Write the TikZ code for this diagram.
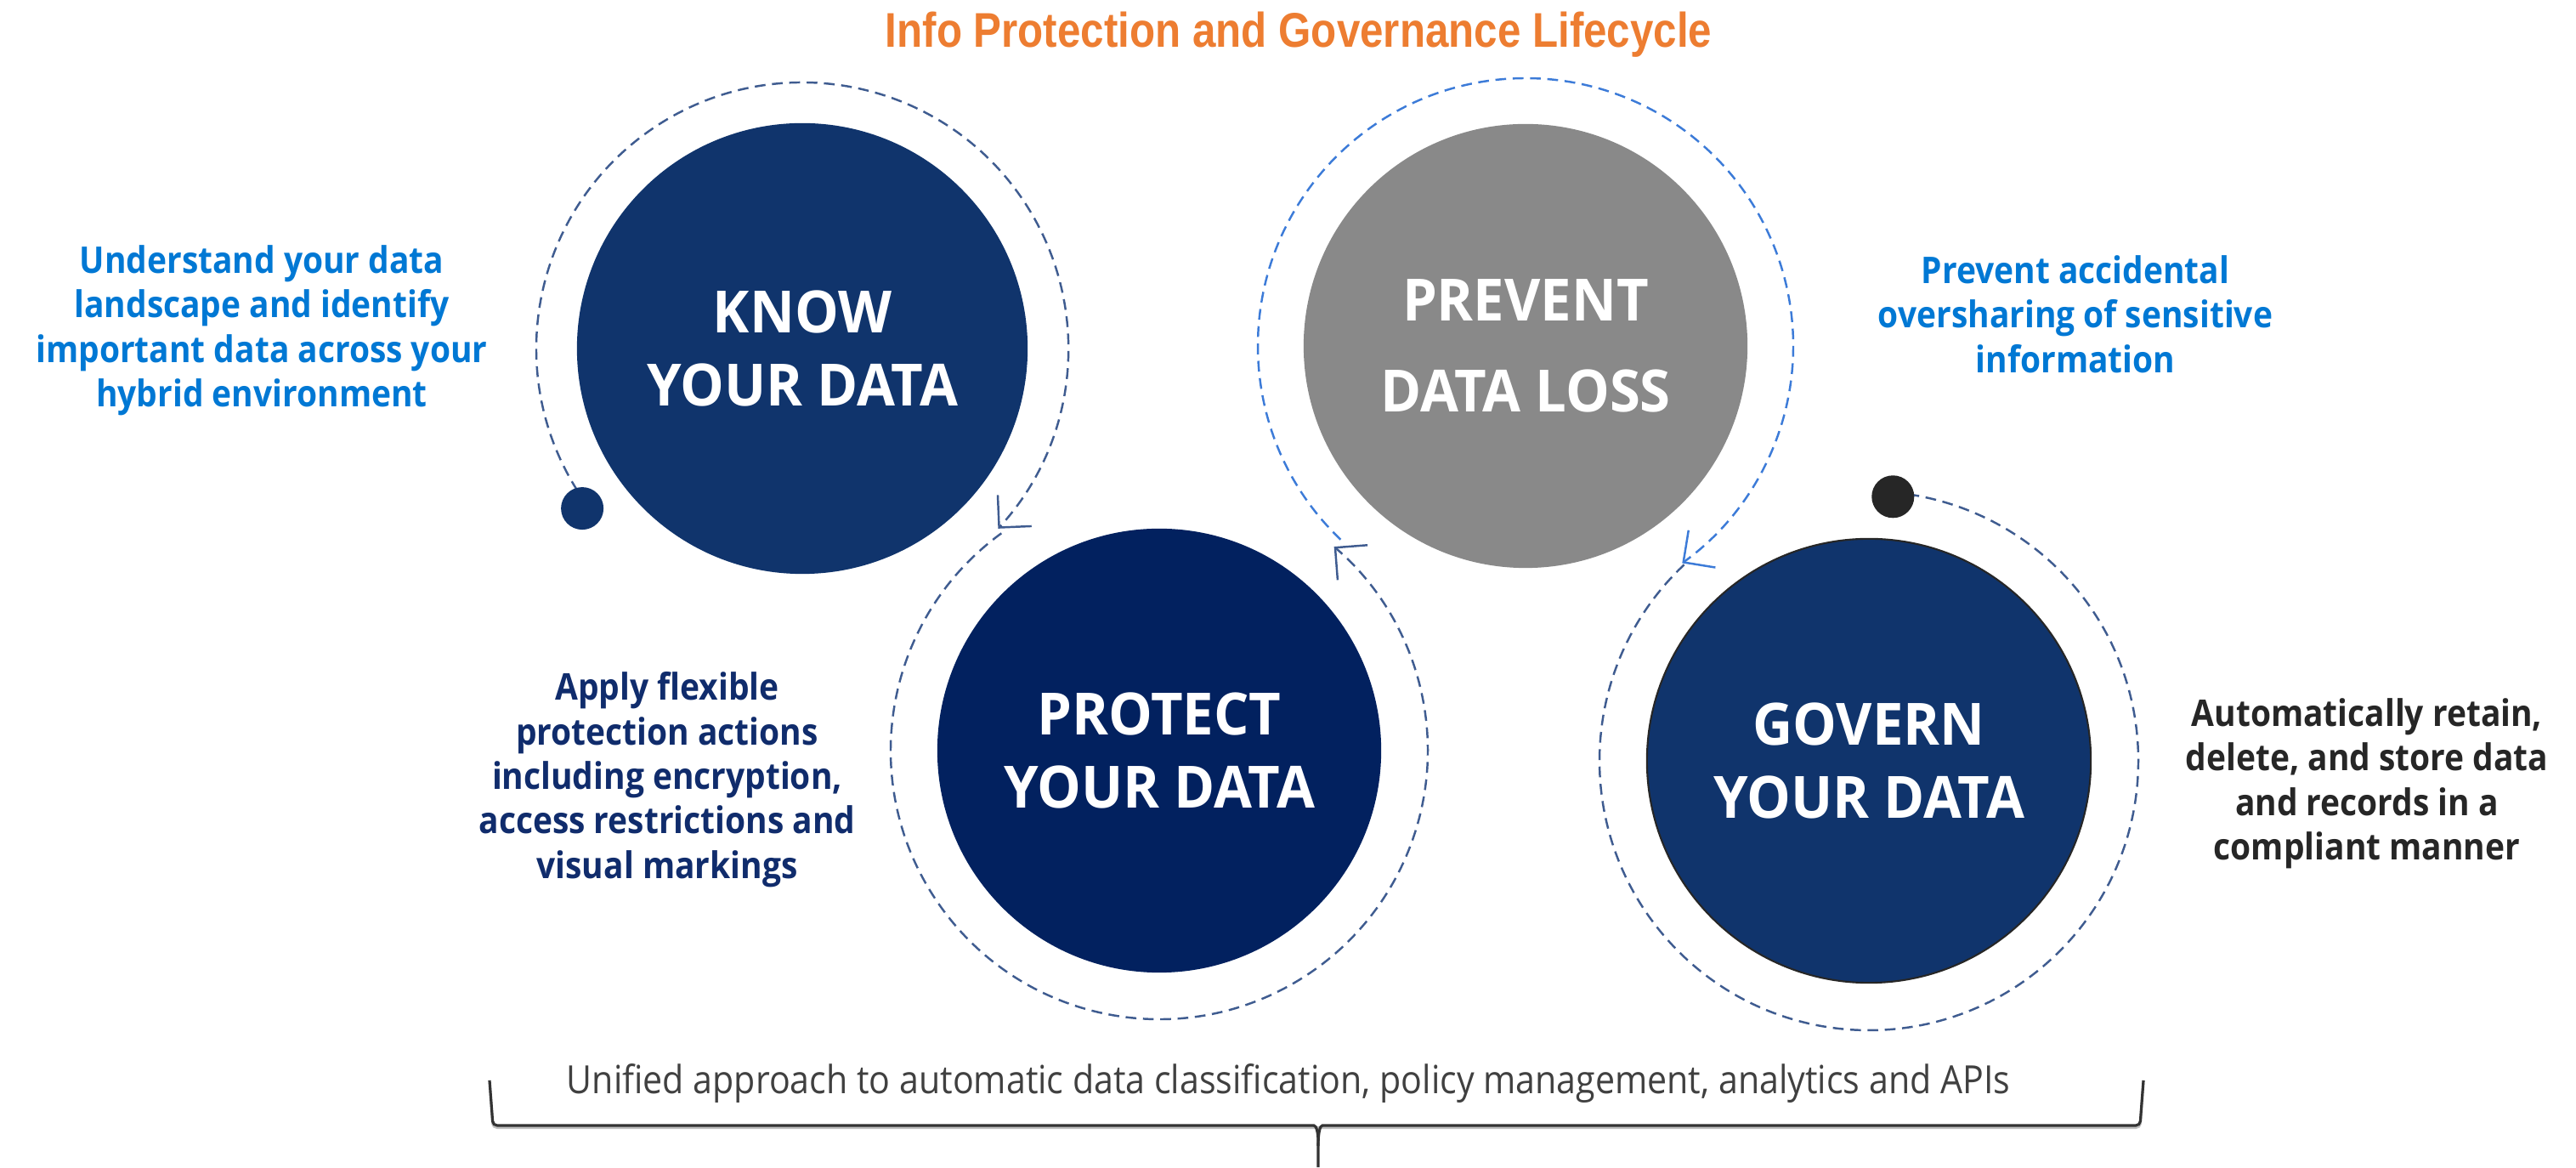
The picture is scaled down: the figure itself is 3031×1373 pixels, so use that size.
\documentclass[tikz,border=0pt]{standalone}
\usepackage{fontspec}
\setmainfont{Open Sans}[FakeStretch=0.9]
\newfontfamily\circfont{Open Sans}[FakeStretch=0.95]
\newfontfamily\titlefont{Liberation Sans}[FakeStretch=0.86]
\usetikzlibrary{arrows.meta}

\definecolor{titleorange}{HTML}{ED7D31}
\definecolor{knowblue}{HTML}{10346C}
\definecolor{protectblue}{HTML}{02215F}
\definecolor{preventgray}{HTML}{898989}
\definecolor{ringdark}{HTML}{3F5C90}
\definecolor{ringblue}{HTML}{3C7BD8}
\definecolor{noteblue}{HTML}{0078D4}
\definecolor{notenavy}{HTML}{102C6C}
\definecolor{notedark}{HTML}{262626}
\definecolor{bottomgray}{HTML}{404040}

\begin{document}
\begin{tikzpicture}[x=0.01cm,y=0.01cm,
  stage/.style={circle,minimum size=5.22cm,inner sep=0pt,text=white,align=center,
    font=\circfont\bfseries\fontsize{19.5}{24.7}\selectfont},
  ring/.style={dash pattern=on 3.6pt off 2.2pt,line width=0.7pt},
  barb/.style={-{Straight Barb[length=0.27cm,width=0.54cm]}},
  note/.style={anchor=north,align=center,inner sep=0pt,font=\bfseries\fontsize{12.3}{14.9}\selectfont},
  dot/.style={circle,minimum size=0.5cm,inner sep=0pt},
  bracket/.style={line width=0.9pt,draw=black!80,rounded corners=0.05cm}]

\fill[white] (0,0) rectangle (3031,1373);
\useasboundingbox (0,0) rectangle (3031,1373);

\node[anchor=base,text=titleorange,font=\titlefont\bfseries\fontsize{16.3}{18}\selectfont] (title) at (1528,1317) {Info Protection and Governance Lifecycle};

\node[stage,fill=knowblue,minimum size=5.3cm] (know) at (944,963) {KNOW\\YOUR DATA};
\node[stage,fill=protectblue] (protect) at (1364,490) {PROTECT\\YOUR DATA};
\node[stage,fill=preventgray,font=\circfont\bfseries\fontsize{19.5}{30.4}\selectfont] (prevent) at (1795,966) {PREVENT\\DATA LOSS};
\node[stage,fill=knowblue,draw=black!85,line width=0.6pt] (govern) at (2199,478) {GOVERN\\YOUR DATA};

\foreach \n/\s/\e/\r/\c/\t in {know/216/-42.6/313/ringdark/barb,
    protect/126/409.4/316/ringdark/barb,
    prevent/226.3/-54.2/315/ringblue/barb,
    govern/133.3/444.8/317/ringdark/-}{
  \draw[ring,\c,\t] (\n.center) ++(\s:\r) arc[start angle=\s,end angle=\e,radius=\r];
}

\path (know.center) ++(216:320) node[dot,fill=knowblue] (startdot) {};
\path (govern.center) ++(84.8:312) node[dot,fill=notedark] (enddot) {};

\node[note,text=noteblue] (knownote) at (308,1085) {Understand your data\\landscape and identify\\important data across your\\hybrid environment};
\node[note,text=noteblue] (preventnote) at (2442,1073) {Prevent accidental\\oversharing of sensitive\\information};
\node[note,text=notenavy] (protectnote) at (785,583) {Apply flexible\\protection actions\\including encryption,\\access restrictions and\\visual markings};
\node[note,text=notedark] (governnote) at (2785,552) {Automatically retain,\\delete, and store data\\and records in a\\compliant manner};

\node[anchor=base,text=bottomgray,font=\fontsize{13}{16}\selectfont] (unified) at (1516,86) {Unified approach to automatic data classification, policy management, analytics and APIs};

\coordinate (braceL) at (576,102);
\coordinate (braceR) at (2522,102);
\coordinate (braceTip) at (1551,0);
\draw[bracket,black!25,yshift=-0.025cm] (braceL) -- (580,49) -- (2518,49) -- (braceR);
\draw[bracket] (braceL) -- (580,49) -- (1541,49) .. controls (1549,49) and (1551,40) .. (1551,25) -- (braceTip);
\draw[bracket] (braceR) -- (2518,49) -- (1561,49) .. controls (1553,49) and (1551,40) .. (1551,25);
\end{tikzpicture}
\end{document}
